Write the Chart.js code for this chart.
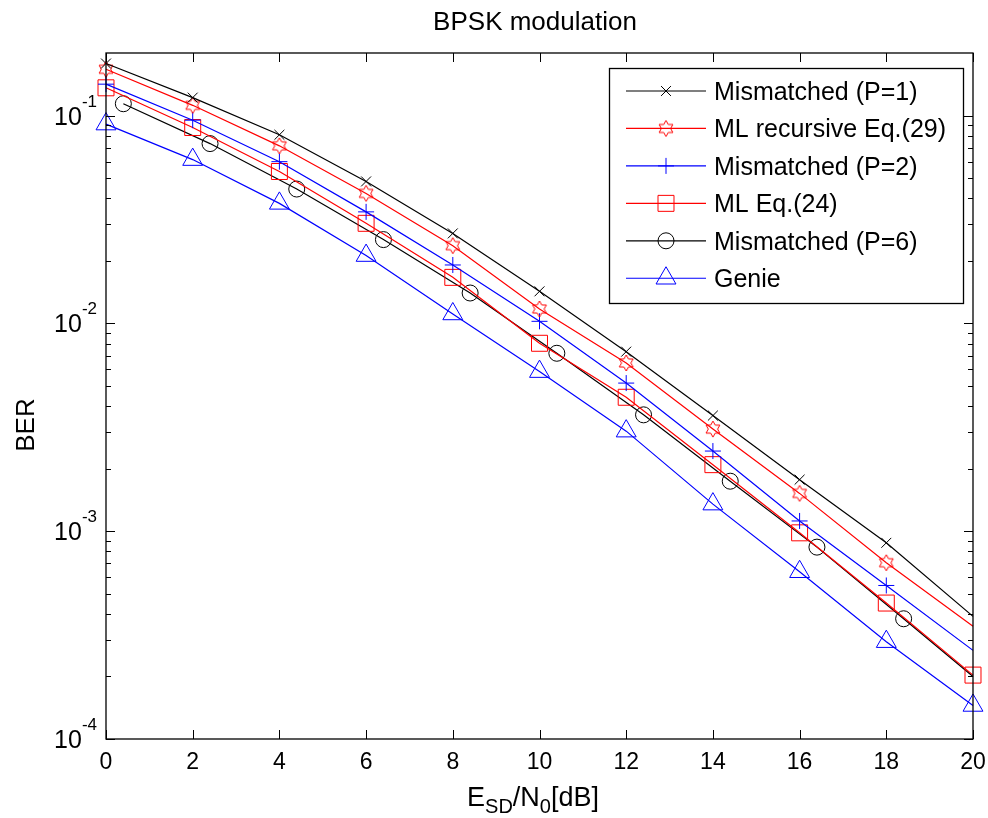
<!DOCTYPE html>
<html lang="en">
<head>
  <meta charset="UTF-8">
  <script src="https://cdn.jsdelivr.net/npm/chart.js"></script>
  <title>BPSK modulation</title>
  <style>
    html, body{margin: 0; padding: 0; background: #fff;}
    #wrap{width: 988px; height: 818px;}
  </style>
</head>
<body>
<div id="wrap">
  <canvas id="myChart" width="988" height="818"></canvas>
</div>
<script>
  // values
  const snr   = [0, 2, 4, 6, 8, 10, 12, 14, 16, 18, 20];
  const snrP6 = [0.4, 2.4, 4.4, 6.4, 8.4, 10.4, 12.4, 14.4, 16.4, 18.4, 20];
  const berP1    = [0.178, 0.122, 0.0808, 0.0482, 0.0271, 0.01426, 0.00731, 0.00360, 0.00177, 0.000879, 0.000389];
  const berMLrec = [0.167, 0.112, 0.0715, 0.0422, 0.02366, 0.01173, 0.00645, 0.00310, 0.00152, 0.000705, 0.000349];
  const berP2    = [0.1416, 0.095, 0.060, 0.0344, 0.0191, 0.01023, 0.00516, 0.00243, 0.00112, 0.000548, 0.000267];
  const berML24  = [0.136, 0.0876, 0.0538, 0.0303, 0.01665, 0.00802, 0.00441, 0.00209, 0.000982, 0.000451, 0.000203];
  const berP6    = [0.114, 0.0733, 0.0443, 0.0253, 0.0140, 0.00718, 0.00363, 0.00174, 0.000838, 0.000379, 0.000200];
  const berGenie = [0.091, 0.0614, 0.0378, 0.0212, 0.0111, 0.00586, 0.00303, 0.00135, 0.000638, 0.000294, 0.000145];

  const xTicks = [0, 2, 4, 6, 8, 10, 12, 14, 16, 18, 20];
  const yDecades = [-4, -3, -2, -1];

  const FONT = '"Liberation Sans", Arial, sans-serif';

  function pts(xs, ys){
    return xs.map((x, i) => ({x: x, y: ys[i]}));
  }

  // hexagram marker (matlab 'h')
  function makeHexagram(color){
    const c = document.createElement('canvas');
    c.width = 20; c.height = 20;
    const g = c.getContext('2d');
    g.strokeStyle = color;
    g.lineWidth = 1;
    g.beginPath();
    for(let i = 0; i < 12; i++){
      const r = i % 2 === 0 ? 8 : 8 / Math.sqrt(3);
      const ang = -Math.PI / 2 + i * Math.PI / 6;
      const px = 10 + r * Math.cos(ang), py = 10 + r * Math.sin(ang);
      if(i === 0) g.moveTo(px, py); else g.lineTo(px, py);
    }
    g.closePath();
    g.stroke();
    return c;
  }
  const hexRed = makeHexagram('#ff0000');

  // hide marker on the last point for some series
  function noLast(r){
    return function(ctx){
      return ctx.dataIndex === ctx.dataset.data.length - 1 ? 0 : r;
    };
  }

  const series = [
    {label: 'Mismatched (P=1)', xs: snr, ys: berP1, color: '#000000', style: 'crossRot', r: 7, last: false},
    {label: 'ML recursive Eq.(29)', xs: snr, ys: berMLrec, color: '#ff0000', style: hexRed, r: 8, last: false},
    {label: 'Mismatched (P=2)', xs: snr, ys: berP2, color: '#0000ff', style: 'cross', r: 8, last: false},
    {label: 'ML Eq.(24)', xs: snr, ys: berML24, color: '#ff0000', style: 'rect', r: 11.3, last: true},
    {label: 'Mismatched (P=6)', xs: snrP6, ys: berP6, color: '#000000', style: 'circle', r: 8, last: false},
    {label: 'Genie', xs: snr, ys: berGenie, color: '#0000ff', style: 'triangle', r: 11.5, last: true}
  ];

  const datasets = series.map(s => ({
    label: s.label,
    data: pts(s.xs, s.ys),
    borderColor: s.color,
    borderWidth: 1.2,
    pointStyle: s.style,
    pointRadius: s.last ? s.r : noLast(s.r),
    pointBorderColor: s.color,
    pointBackgroundColor: 'rgba(0,0,0,0)',
    pointBorderWidth: 1,
    tension: 0,
    fill: false,
    clip: false
  }));

  function marker(ctx, style, x, y, r, color){
    ctx.save();
    ctx.strokeStyle = color;
    ctx.lineWidth = 1;
    if(typeof style === 'object'){
      ctx.drawImage(style, x - style.width / 2, y - style.height / 2);
      ctx.restore();
      return;
    }
    ctx.beginPath();
    if(style === 'crossRot'){
      const d = r * Math.SQRT1_2;
      ctx.moveTo(x - d, y - d); ctx.lineTo(x + d, y + d);
      ctx.moveTo(x - d, y + d); ctx.lineTo(x + d, y - d);
    }else if(style === 'cross'){
      ctx.moveTo(x - r, y); ctx.lineTo(x + r, y);
      ctx.moveTo(x, y - r); ctx.lineTo(x, y + r);
    }else if(style === 'rect'){
      const h = r * Math.SQRT1_2;
      ctx.rect(x - h, y - h, 2 * h, 2 * h);
    }else if(style === 'circle'){
      ctx.arc(x, y, r, 0, Math.PI * 2);
    }else if(style === 'triangle'){
      ctx.moveTo(x, y - r);
      ctx.lineTo(x + r * Math.sin(Math.PI * 2 / 3), y + r * 0.5);
      ctx.lineTo(x - r * Math.sin(Math.PI * 2 / 3), y + r * 0.5);
      ctx.closePath();
    }
    ctx.stroke();
    ctx.restore();
  }

  // axes box, ticks, labels, legend (matlab look)
  const matlabAxes = {
    id: 'matlabAxes',
    afterDraw(chart){
      const ctx = chart.ctx;
      const a = chart.chartArea;
      const xs = chart.scales.x, ys = chart.scales.y;
      ctx.save();
      ctx.strokeStyle = '#000';
      ctx.fillStyle = '#000';
      ctx.lineWidth = 1.3;
      ctx.strokeRect(a.left, a.top, a.right - a.left, a.bottom - a.top);

      ctx.lineWidth = 1;
      ctx.beginPath();
      xTicks.forEach(v => {
        const px = Math.round(xs.getPixelForValue(v)) + 0.5;
        ctx.moveTo(px, a.bottom); ctx.lineTo(px, a.bottom - 9);
        ctx.moveTo(px, a.top); ctx.lineTo(px, a.top + 9);
      });
      const yMax = ys.max;
      yDecades.forEach(e => {
        for(let m = 1; m <= 9; m++){
          const val = m * Math.pow(10, e);
          if(val > yMax * 0.999) break;
          const py = Math.round(ys.getPixelForValue(val)) + 0.5;
          const len = m === 1 ? 9 : 5;
          ctx.moveTo(a.left, py); ctx.lineTo(a.left + len, py);
          ctx.moveTo(a.right, py); ctx.lineTo(a.right - len, py);
        }
      });
      ctx.stroke();

      // x tick labels
      ctx.font = '23px ' + FONT;
      ctx.textAlign = 'center';
      ctx.textBaseline = 'alphabetic';
      xTicks.forEach(v => {
        ctx.fillText(String(v), xs.getPixelForValue(v), a.bottom + 30);
      });

      // y tick labels 10^e
      yDecades.forEach(e => {
        const py = ys.getPixelForValue(Math.pow(10, e));
        const sup = String(e);
        ctx.font = '17px ' + FONT;
        const sw = ctx.measureText(sup).width;
        ctx.textAlign = 'right';
        ctx.fillText(sup, 97, py - 9);
        ctx.font = '25px ' + FONT;
        ctx.fillText('10', 97 - sw, py + 9);
      });

      // title
      ctx.textAlign = 'center';
      ctx.font = '26px ' + FONT;
      ctx.fillText('BPSK modulation', 535, 30);

      // y axis label
      ctx.save();
      ctx.translate(34, 425);
      ctx.rotate(-Math.PI / 2);
      ctx.font = '26px ' + FONT;
      ctx.fillText('BER', 0, 0);
      ctx.restore();

      // x axis label E_SD/N_0[dB]
      const parts = [
        {t: 'E', sub: false}, {t: 'SD', sub: true}, {t: '/N', sub: false},
        {t: '0', sub: true}, {t: '[dB]', sub: false}
      ];
      let total = 0;
      parts.forEach(p => {
        ctx.font = (p.sub ? '20px ' : '27px ') + FONT;
        p.w = ctx.measureText(p.t).width;
        total += p.w;
      });
      let cx = 533 - total / 2;
      ctx.textAlign = 'left';
      parts.forEach(p => {
        ctx.font = (p.sub ? '20px ' : '27px ') + FONT;
        ctx.fillText(p.t, cx, p.sub ? 813 : 806);
        cx += p.w;
      });

      // legend
      const lx = 609, ly = 68, lw = 354, lh = 235;
      ctx.fillStyle = '#fff';
      ctx.fillRect(lx, ly, lw, lh);
      ctx.strokeStyle = '#000';
      ctx.lineWidth = 1.3;
      ctx.strokeRect(lx + 0.5, ly + 0.5, lw, lh);
      ctx.font = '25px ' + FONT;
      ctx.textAlign = 'left';
      series.forEach((s, i) => {
        const y = 91 + i * 37.45;
        ctx.strokeStyle = s.color;
        ctx.lineWidth = 1.2;
        ctx.beginPath();
        ctx.moveTo(626, y); ctx.lineTo(706, y);
        ctx.stroke();
        marker(ctx, s.style, 666, y, s.r, s.color);
        ctx.fillStyle = '#000';
        ctx.fillText(s.label, 714, y + 9);
      });
      ctx.restore();
    }
  };

  const ctx = document.getElementById('myChart');
  new Chart(ctx, {
    type: 'line',
    data: {datasets: datasets},
    options: {
      responsive: false,
      animation: false,
      layout: {padding: {left: 106, right: 15, top: 53, bottom: 79}},
      plugins: {legend: {display: false}, tooltip: {enabled: false}, title: {display: false}},
      scales: {
        x: {type: 'linear', min: 0, max: 20, display: false},
        y: {type: 'logarithmic', min: 1e-4, max: 0.2, display: false}
      }
    },
    plugins: [matlabAxes]
  });
</script>
</body>
</html>
